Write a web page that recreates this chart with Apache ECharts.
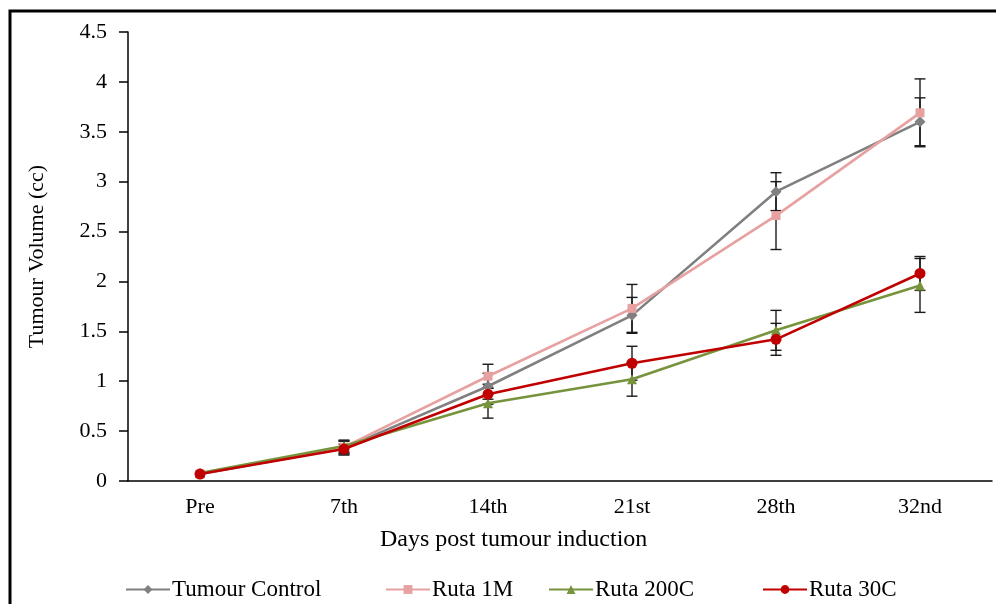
<!DOCTYPE html>
<html>
<head>
<meta charset="utf-8">
<script src="https://cdn.jsdelivr.net/npm/echarts@6/dist/echarts.min.js"></script>
<style>
  html, body { margin: 0; padding: 0; background: #fff; }
  #chart { width: 996px; height: 604px; }
</style>
</head>
<body>
<div id="chart"></div>
<script>
// Tumour volume (cc) by day after induction, mean with error
const categories = ['Pre', '7th', '14th', '21st', '28th', '32nd'];

const tumourControl    = [0.07, 0.33, 0.95, 1.66, 2.90, 3.60];
const tumourControlErr = [0.00, 0.07, 0.13, 0.18, 0.19, 0.24];

const ruta1M    = [0.07, 0.34, 1.05, 1.73, 2.66, 3.69];
const ruta1MErr = [0.00, 0.06, 0.12, 0.24, 0.34, 0.34];

const ruta200C    = [0.08, 0.35, 0.78, 1.02, 1.51, 1.96];
const ruta200CErr = [0.00, 0.06, 0.15, 0.17, 0.20, 0.27];

const ruta30C    = [0.07, 0.32, 0.87, 1.18, 1.42, 2.08];
const ruta30CErr = [0.00, 0.05, 0.10, 0.17, 0.16, 0.17];

const yTicks = { min: 0, max: 4.5, interval: 0.5 };

const FONT = '"Liberation Serif", "Times New Roman", serif';

const seriesDefs = [
  { name: 'Tumour Control', values: tumourControl, errors: tumourControlErr, color: '#808080', symbol: 'diamond',  size: 11, legendLeft: 120 },
  { name: 'Ruta 1M',        values: ruta1M,        errors: ruta1MErr,        color: '#E6A1A0', symbol: 'rect',     size: 9,  legendLeft: 380 },
  { name: 'Ruta 200C',      values: ruta200C,      errors: ruta200CErr,      color: '#77933C', symbol: 'triangle', size: 10, legendLeft: 543 },
  { name: 'Ruta 30C',       values: ruta30C,       errors: ruta30CErr,       color: '#C00000', symbol: 'circle',   size: 11, legendLeft: 757 }
];

// Vertical whisker with caps, from value-err to value+err
function errorBarItem(params, api) {
  const x = api.value(0);
  const lo = api.coord([x, api.value(1)]);
  const hi = api.coord([x, api.value(2)]);
  const half = 5.5;
  const style = { stroke: '#1a1a1a', lineWidth: 1.4 };
  return {
    type: 'group',
    children: [
      { type: 'line', shape: { x1: hi[0], y1: hi[1], x2: lo[0], y2: lo[1] }, style },
      { type: 'line', shape: { x1: hi[0] - half, y1: hi[1], x2: hi[0] + half, y2: hi[1] }, style },
      { type: 'line', shape: { x1: lo[0] - half, y1: lo[1], x2: lo[0] + half, y2: lo[1] }, style }
    ]
  };
}

const series = [];
seriesDefs.forEach(function (d) {
  series.push({
    type: 'custom',
    name: d.name + ' error',
    renderItem: errorBarItem,
    data: d.values.map(function (v, k) { return [k, v - d.errors[k], v + d.errors[k]]; })
      .filter(function (_, k) { return d.errors[k] > 0; }),
    z: 3,
    silent: true
  });
});
seriesDefs.forEach(function (d, i) {
  series.push({
    type: 'line',
    name: d.name,
    data: d.values,
    symbol: d.symbol,
    symbolSize: d.size,
    showAllSymbol: true,
    color: d.color,
    lineStyle: { color: d.color, width: 2.6 },
    itemStyle: { color: d.color },
    z: 4 + i
  });
});

// One legend block per series so each entry sits at its own offset
const legends = seriesDefs.map(function (d) {
  return {
    data: [d.name],
    bottom: -2,
    left: d.legendLeft,
    itemWidth: 44,
    itemHeight: 11,
    textStyle: { color: '#000', fontSize: 23, fontFamily: FONT, padding: [0, 0, 0, -3] }
  };
});

const chart = echarts.init(document.getElementById('chart'), null, { renderer: 'canvas' });
chart.setOption({
  animation: false,
  backgroundColor: '#fff',
  textStyle: { fontFamily: FONT },
  grid: { left: 128, right: 4, top: 32, bottom: 123, containLabel: false },
  xAxis: {
    type: 'category',
    data: categories,
    boundaryGap: true,
    axisLine: { lineStyle: { color: '#000', width: 1.5 } },
    axisTick: { alignWithLabel: true, length: 6, lineStyle: { color: '#000', width: 1.5 } },
    axisLabel: { color: '#000', fontSize: 22, fontFamily: FONT, margin: 15 },
    splitLine: { show: false }
  },
  yAxis: {
    type: 'value',
    min: yTicks.min,
    max: yTicks.max,
    interval: yTicks.interval,
    name: 'Tumour Volume (cc)',
    nameLocation: 'middle',
    nameRotate: 90,
    nameGap: 80,
    nameTextStyle: { color: '#000', fontSize: 22, fontFamily: FONT },
    axisLine: { show: true, lineStyle: { color: '#000', width: 1.5 } },
    axisTick: { show: true, inside: false, length: 9, lineStyle: { color: '#000', width: 1.5 } },
    axisLabel: { color: '#000', fontSize: 22, fontFamily: FONT, margin: 21 },
    splitLine: { show: false }
  },
  legend: legends,
  graphic: [
    {
      type: 'rect',
      shape: { x: 10, y: 11, width: 1100, height: 800 },
      style: { fill: 'none', stroke: '#000', lineWidth: 3 },
      silent: true
    },
    {
      type: 'text',
      left: 380,
      top: 528,
      style: { text: 'Days post tumour induction', fill: '#000', font: '24px ' + FONT }
    }
  ],
  series: series
});
</script>
</body>
</html>
